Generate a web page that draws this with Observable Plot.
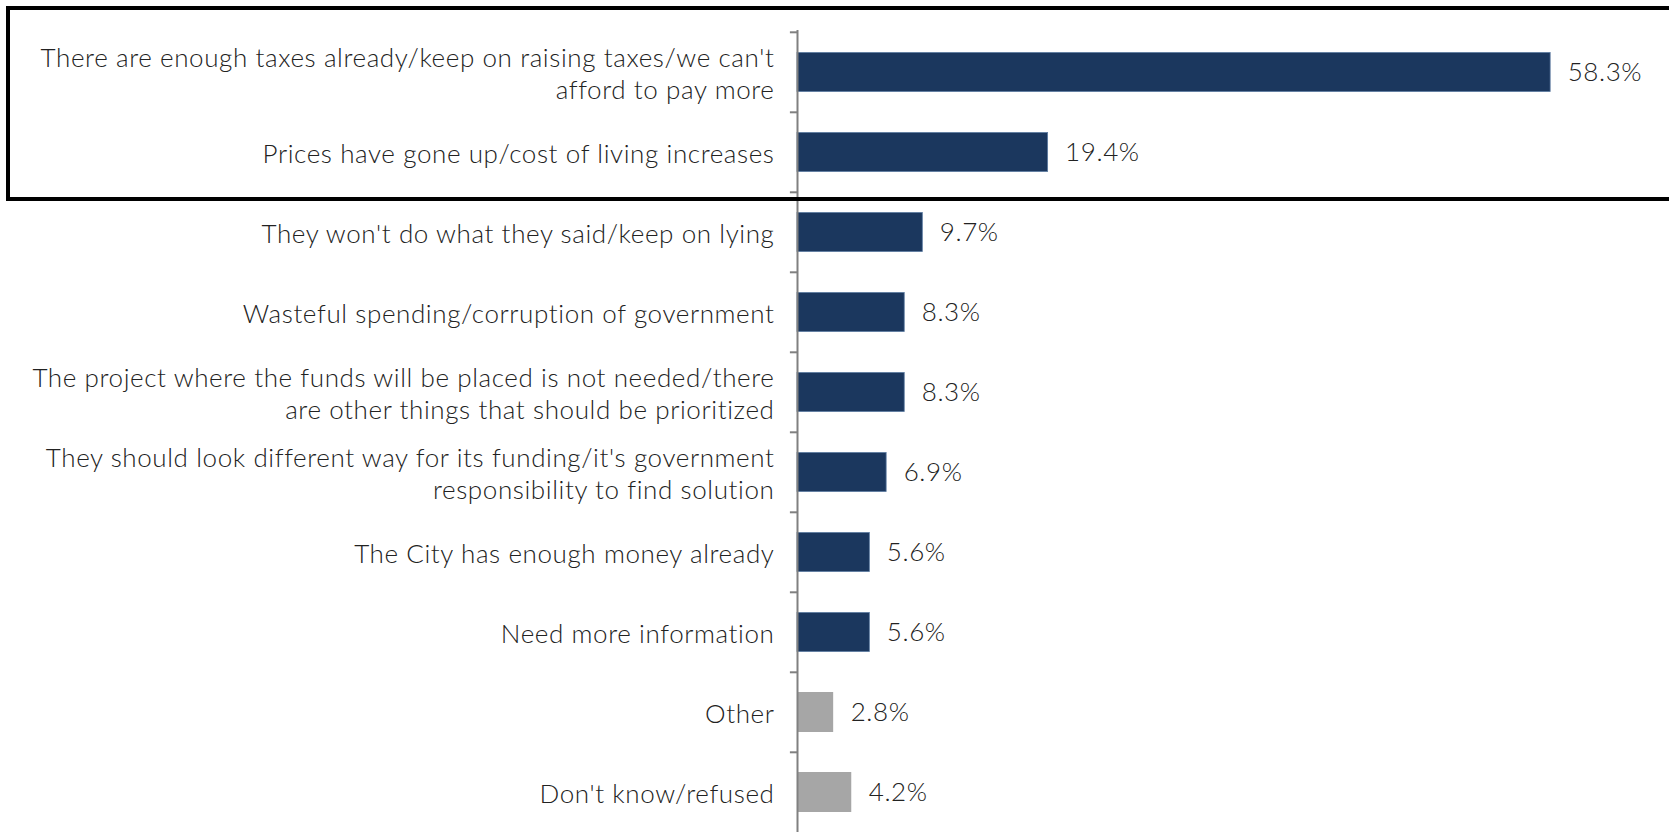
<!DOCTYPE html>
<html>
<head>
<meta charset="utf-8">
<script src="https://cdn.jsdelivr.net/npm/d3@7"></script>
<script src="https://cdn.jsdelivr.net/npm/@observablehq/plot@0.6"></script>
<style>
  html, body { margin: 0; padding: 0; background: #fff; overflow: hidden; }
  #wrap { position: relative; width: 1669px; height: 832px; }
  #box { position: absolute; left: 6px; top: 6px; width: 1700px; height: 195px;
         box-sizing: border-box; border: 4px solid #000; pointer-events: none; }
  #chart svg text { letter-spacing: 0.6px; }
</style>
</head>
<body>
<div id="wrap"><div id="chart"></div><div id="box"></div></div>
<script>
const categories = [
  "There are enough taxes already/keep on raising taxes/we can't\nafford to pay more",
  "Prices have gone up/cost of living increases",
  "They won't do what they said/keep on lying",
  "Wasteful spending/corruption of government",
  "The project where the funds will be placed is not needed/there\nare other things that should be prioritized",
  "They should look different way for its funding/it's government\nresponsibility to find solution",
  "The City has enough money already",
  "Need more information",
  "Other",
  "Don't know/refused"
];
const values = [58.3, 19.4, 9.7, 8.3, 8.3, 6.9, 5.6, 5.6, 2.8, 4.2];
const groups = ["main","main","main","main","main","main","main","main","other","other"];

const data = categories.map((c, i) => ({category: c, value: values[i], group: groups[i]}));

const W = 1669, H = 834, mTop = 30, mBottom = 0, mLeft = 797, mRight = 0;
const step = (H - mTop - mBottom) / categories.length;
const font = "Lato, 'Open Sans', sans-serif";

const chart = Plot.plot({
  width: W,
  height: H,
  marginTop: mTop,
  marginBottom: mBottom,
  marginLeft: mLeft,
  marginRight: mRight,
  style: {fontFamily: font, fontWeight: 300, color: "#222", background: "#fff"},
  x: {domain: [0, 67.5], axis: null},
  y: {domain: categories, padding: 0, label: null},
  color: {domain: ["main", "other"], range: ["#1b375e", "#a6a6a6"]},
  marks: [
    Plot.barX(data, {filter: d => d.group === "main", x: "value", y: "category", fill: "group",
      stroke: "#5b7aa0", strokeWidth: 0.8, insetTop: 20.5, insetBottom: 20.5}),
    Plot.barX(data, {filter: d => d.group !== "main", x: "value", y: "category", fill: "group",
      insetTop: 20, insetBottom: 20}),
    Plot.ruleX([0], {stroke: "#808080", strokeWidth: 2}),
    Plot.ruleY(categories, {y: d => d, x1: -0.55, x2: 0, dy: -step / 2, stroke: "#808080", strokeWidth: 2}),
    Plot.axisY({tickSize: 0, tickPadding: 23, fontSize: 26, lineHeight: 1.22, fill: "#222", fontWeight: 300, label: null}),
    Plot.text(data, {x: "value", y: "category", text: d => d.value.toFixed(1) + "%", textAnchor: "start", dx: 17, fontSize: 26, fill: "#222", fontWeight: 300})
  ]
});
document.getElementById("chart").appendChild(chart);
</script>
</body>
</html>
